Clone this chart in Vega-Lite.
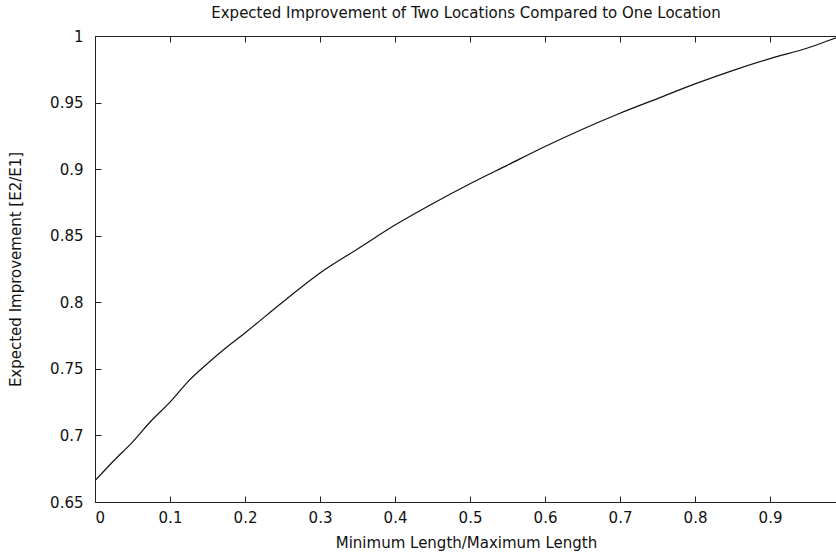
{
  "$schema": "https://vega.github.io/schema/vega-lite/v6.json",
  "autosize": "none",
  "width": 742,
  "height": 466,
  "padding": {"left": 95, "top": 36, "right": 0, "bottom": 50},
  "background": "white",
  "config": {
    "view": {"stroke": "#222", "strokeWidth": 1},
    "axis": {"grid": false, "domain": false, "tickColor": "#222", "labelColor": "#111", "titleColor": "#111", "labelFont": "DejaVu Sans", "titleFont": "DejaVu Sans", "labelFontSize": 15, "titleFontSize": 15, "titleFontWeight": "normal", "tickWidth": 1, "tickSize": 6, "offset": -6}
  },
  "title": {"text": "Expected Improvement of Two Locations Compared to One Location", "font": "DejaVu Sans", "fontSize": 15, "fontWeight": "normal", "color": "#111", "anchor": "middle", "offset": 8},
  "data": {"values": [
    {"r": 0.0, "e": 0.666},
    {"r": 0.025, "e": 0.681},
    {"r": 0.05, "e": 0.695},
    {"r": 0.075, "e": 0.711},
    {"r": 0.1, "e": 0.725},
    {"r": 0.125, "e": 0.741},
    {"r": 0.15, "e": 0.754},
    {"r": 0.175, "e": 0.766},
    {"r": 0.2, "e": 0.777},
    {"r": 0.25, "e": 0.800},
    {"r": 0.3, "e": 0.822},
    {"r": 0.35, "e": 0.840},
    {"r": 0.4, "e": 0.858},
    {"r": 0.45, "e": 0.874},
    {"r": 0.5, "e": 0.889},
    {"r": 0.55, "e": 0.903},
    {"r": 0.6, "e": 0.917},
    {"r": 0.65, "e": 0.930},
    {"r": 0.7, "e": 0.942},
    {"r": 0.75, "e": 0.953},
    {"r": 0.8, "e": 0.964},
    {"r": 0.85, "e": 0.974},
    {"r": 0.9, "e": 0.983},
    {"r": 0.95, "e": 0.991},
    {"r": 0.98, "e": 0.997},
    {"r": 0.99, "e": 0.999}
  ]},
  "resolve": {"axis": {"x": "independent"}},
  "layer": [
    {
      "mark": {"type": "line", "color": "#111", "strokeWidth": 1.2, "clip": true, "interpolate": "monotone"},
      "encoding": {
        "x": {"field": "r", "type": "quantitative", "scale": {"domain": [0, 0.9893], "nice": false, "zero": false},
              "axis": {"orient": "bottom", "title": "Minimum Length/Maximum Length", "values": [0, 0.1, 0.2, 0.3, 0.4, 0.5, 0.6, 0.7, 0.8, 0.9], "format": "~g", "labelPadding": 8, "titlePadding": 10}},
        "y": {"field": "e", "type": "quantitative", "scale": {"domain": [0.65, 1], "nice": false, "zero": false},
              "axis": {"title": "Expected Improvement [E2/E1]", "values": [0.65, 0.7, 0.75, 0.8, 0.85, 0.9, 0.95, 1], "format": "~g", "labelPadding": 12, "titlePadding": 26}}
      }
    },
    {
      "mark": {"type": "line", "opacity": 0, "clip": true},
      "encoding": {
        "x": {"field": "r", "type": "quantitative", "axis": {"orient": "top", "title": null, "labels": false, "values": [0, 0.1, 0.2, 0.3, 0.4, 0.5, 0.6, 0.7, 0.8, 0.9]}},
        "y": {"field": "e", "type": "quantitative"}
      }
    }
  ]
}
